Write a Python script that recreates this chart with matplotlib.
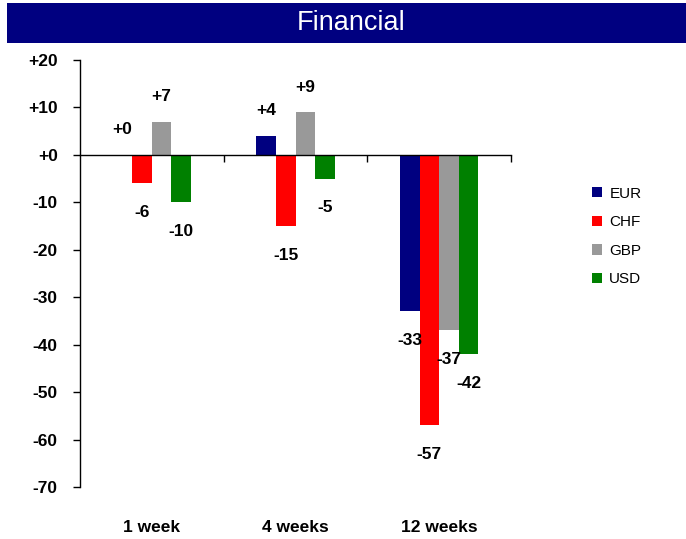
import numpy as np
import matplotlib
matplotlib.use("Agg")
import matplotlib.pyplot as plt
from matplotlib.patches import Rectangle
from matplotlib.ticker import FuncFormatter, MultipleLocator

plt.rcParams['font.family'] = ['Liberation Sans', 'DejaVu Sans']

periods = ['1 week', '4 weeks', '12 weeks']
currencies = ['EUR', 'CHF', 'GBP', 'USD']
eur = [0, 4, -33]
chf = [-6, -15, -57]
gbp = [7, 9, -37]
usd = [-10, -5, -42]
colors = ['#000080', '#FF0000', '#999999', '#008000']

fig = plt.figure(figsize=(6.86, 5.39), dpi=100)
ax = fig.add_axes([80/686, 1-487/539, 431/686, 427/539])

# title bar
fig.patches.append(Rectangle((7/686, 1-43/539), 1-7/686, 40/539, transform=fig.transFigure,
                             facecolor='#000080', edgecolor='none', zorder=0))
fig.text(351/686, 1-23/539, 'Financial', color='white', fontsize=19.5, ha='center', va='center')

x = np.arange(len(periods))
w = 0.136
fmt = lambda v: '{:+d}'.format(int(v))
for i, (vals, c, name) in enumerate(zip([eur, chf, gbp, usd], colors, currencies)):
    xs = x + (i - 1.5) * w
    ax.bar(xs, vals, width=w, color=c, label=name, zorder=2)
    for xi, v in zip(xs, vals):
        off = 18 if v >= 0 else -21
        ax.annotate(fmt(v), (xi, v), xytext=(0, off), textcoords='offset points',
                    ha='center', va='center', fontsize=12.5, fontweight='bold')

ax.set_xlim(-0.5, 2.5)
ax.set_ylim(-70, 20)
ax.yaxis.set_major_locator(MultipleLocator(10))
ax.yaxis.set_major_formatter(FuncFormatter(lambda v, p: fmt(v)))
ax.tick_params(axis='y', direction='out', length=5, width=1, pad=11, labelsize=12.5)
for t in ax.get_yticklabels():
    t.set_fontweight('bold')

for s in ['top', 'right']:
    ax.spines[s].set_visible(False)
ax.spines['left'].set_linewidth(1)
ax.spines['bottom'].set_position(('data', 0))
ax.spines['bottom'].set_linewidth(1)
ax.set_xticks(x + 0.5)
ax.set_xticks([], minor=True)
ax.xaxis.set_major_formatter(FuncFormatter(lambda v, p: ''))
ax.tick_params(axis='x', direction='out', length=5, width=1)

sec = ax.secondary_xaxis(0.0)
sec.set_xticks(x, periods)
sec.tick_params(length=0, pad=24, labelsize=12.5)
sec.spines['bottom'].set_visible(False)
for t in sec.get_xticklabels():
    t.set_fontweight('bold')

fig.legend(loc='upper left', bbox_to_anchor=(578/686, 1-173/539), frameon=False,
           fontsize=11, handlelength=0.65, handleheight=0.65, handletextpad=0.5,
           labelspacing=0.95)

fig.savefig('out.png', dpi=100)
